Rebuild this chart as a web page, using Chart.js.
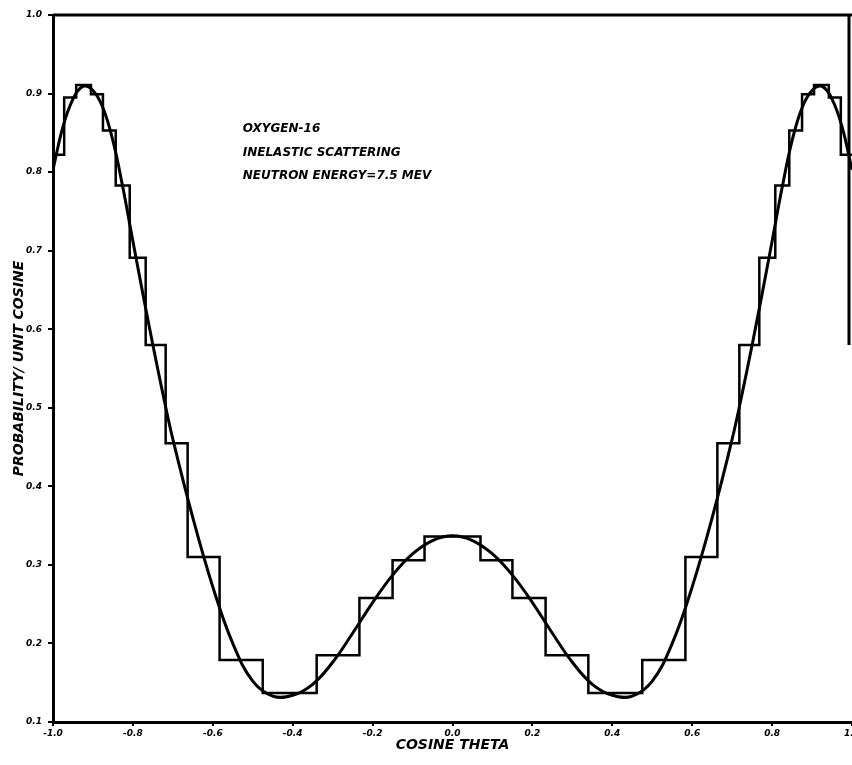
<!DOCTYPE html>
<html>
<head>
<meta charset="utf-8">
<script src="https://cdn.jsdelivr.net/npm/chart.js@4/dist/chart.umd.min.js"></script>
<style>
  html, body { margin: 0; padding: 0; background: #fff; }
  #wrap { width: 852px; height: 765px; }
</style>
</head>
<body>
<div id="wrap"><canvas id="myChart" width="852" height="765"></canvas></div>
<script>
// smooth angular distribution
const curveCos = [-1.0, -0.975, -0.95, -0.925, -0.9, -0.875, -0.85, -0.825, -0.8, -0.775, -0.75, -0.725, -0.7,
  -0.65, -0.6, -0.55, -0.5, -0.45, -0.4, -0.35, -0.3, -0.25, -0.2, -0.15, -0.1, -0.05,
  0.0, 0.05, 0.1, 0.15, 0.2, 0.25, 0.3, 0.35, 0.4, 0.45, 0.5, 0.55, 0.6, 0.65,
  0.7, 0.725, 0.75, 0.775, 0.8, 0.825, 0.85, 0.875, 0.9, 0.925, 0.95, 0.975, 1.0];
const curveProb = [0.803, 0.858, 0.893, 0.909, 0.904, 0.882, 0.840, 0.780, 0.712, 0.645, 0.580, 0.518, 0.460,
  0.360, 0.272, 0.200, 0.152, 0.133, 0.134, 0.148, 0.176, 0.213, 0.252, 0.287, 0.314, 0.331,
  0.337, 0.331, 0.314, 0.287, 0.252, 0.213, 0.176, 0.148, 0.134, 0.133, 0.152, 0.200, 0.272, 0.360,
  0.460, 0.518, 0.580, 0.645, 0.712, 0.780, 0.840, 0.882, 0.904, 0.909, 0.893, 0.858, 0.803];

// equiprobable bins (histogram)
const binEdges = [-1.0, -0.972, -0.942, -0.905, -0.875, -0.843, -0.808, -0.768, -0.718, -0.663, -0.583,
  -0.475, -0.340, -0.233, -0.150, -0.070, 0.0, 0.070, 0.150, 0.233, 0.340, 0.475,
  0.583, 0.663, 0.718, 0.768, 0.808, 0.843, 0.875, 0.905, 0.942, 0.972, 1.0];
const binProb = [0.822, 0.895, 0.911, 0.899, 0.853, 0.783, 0.691, 0.580, 0.455, 0.310, 0.179,
  0.137, 0.185, 0.258, 0.306, 0.336, 0.336, 0.306, 0.258, 0.185, 0.137,
  0.179, 0.310, 0.455, 0.580, 0.691, 0.783, 0.853, 0.899, 0.911, 0.895, 0.822];

const xTicks = [-1.0, -0.8, -0.6, -0.4, -0.2, 0.0, 0.2, 0.4, 0.6, 0.8, 1.0];
const yTicks = [0.1, 0.2, 0.3, 0.4, 0.5, 0.6, 0.7, 0.8, 0.9, 1.0];
const noteLines = ["OXYGEN-16", "INELASTIC SCATTERING", "NEUTRON ENERGY=7.5 MEV"];

const curvePts = curveCos.map((c, i) => ({ x: c, y: curveProb[i] }));
const histPts = binProb.map((p, i) => ({ x: binEdges[i], y: p }));
histPts.push({ x: binEdges[binEdges.length - 1], y: binProb[binProb.length - 1] });

const INK = "#000";
const tickFont = { family: "DejaVu Sans", size: 9, weight: "bold", style: "italic" };
const titleFont = { family: "DejaVu Sans", size: 14, weight: "bold", style: "italic" };

const frameAndNote = {
  id: "frameAndNote",
  afterDraw(chart) {
    const { ctx, chartArea: a, scales } = chart;
    ctx.save();
    ctx.strokeStyle = INK;
    ctx.lineWidth = 3;
    ctx.beginPath();
    ctx.moveTo(a.left, a.top);
    ctx.lineTo(a.right, a.top);
    ctx.moveTo(a.right - 3, a.top);
    ctx.lineTo(a.right - 3, scales.y.getPixelForValue(0.58));
    ctx.stroke();
    ctx.fillStyle = INK;
    ctx.font = "italic bold 12px 'DejaVu Sans'";
    ctx.textBaseline = "middle";
    const x0 = scales.x.getPixelForValue(-0.525);
    noteLines.forEach((t, i) => {
      ctx.fillText(t, x0, scales.y.getPixelForValue(0.855 - i * 0.03));
    });
    ctx.restore();
  }
};

new Chart("myChart", {
  type: "line",
  data: {
    datasets: [
      {
        data: curvePts,
        borderColor: INK,
        borderWidth: 3,
        pointRadius: 0,
        tension: 0.4,
        fill: false,
      },
      {
        data: histPts,
        borderColor: INK,
        borderWidth: 2.5,
        pointRadius: 0,
        stepped: "before",
        fill: false,
      },
    ],
  },
  options: {
    responsive: false,
    animation: false,
    layout: { padding: { top: 15, right: 0, left: 0, bottom: 0 } },
    plugins: { legend: { display: false }, tooltip: { enabled: false } },
    scales: {
      x: {
        type: "linear",
        min: -1,
        max: 1,
        afterBuildTicks(s) { s.ticks = xTicks.map(v => ({ value: v })); },
        afterFit(s) { s.height = 43; s.paddingRight = 0; s.paddingLeft = 0; },
        grid: { display: true, drawOnChartArea: false, color: INK, lineWidth: 2, tickLength: 4 },
        border: { display: true, color: INK, width: 3 },
        ticks: { color: INK, font: tickFont, padding: 2, maxRotation: 0,
                 callback: v => v.toFixed(1) },
        title: { display: true, text: "COSINE THETA", color: INK, font: titleFont,
                 padding: { top: 0, bottom: 11 } },
      },
      y: {
        type: "linear",
        min: 0.1,
        max: 1.0,
        afterBuildTicks(s) { s.ticks = yTicks.map(v => ({ value: v })); },
        afterFit(s) { s.width = 53; },
        grid: { display: true, drawOnChartArea: false, color: INK, lineWidth: 2, tickLength: 5 },
        border: { display: true, color: INK, width: 3 },
        ticks: { color: INK, font: tickFont, padding: 6, callback: v => v.toFixed(1) },
        title: { display: true, text: "PROBABILITY/ UNIT COSINE", color: INK, font: titleFont,
                 padding: { top: 11, bottom: 0 } },
      },
    },
  },
  plugins: [frameAndNote],
});
</script>
</body>
</html>
